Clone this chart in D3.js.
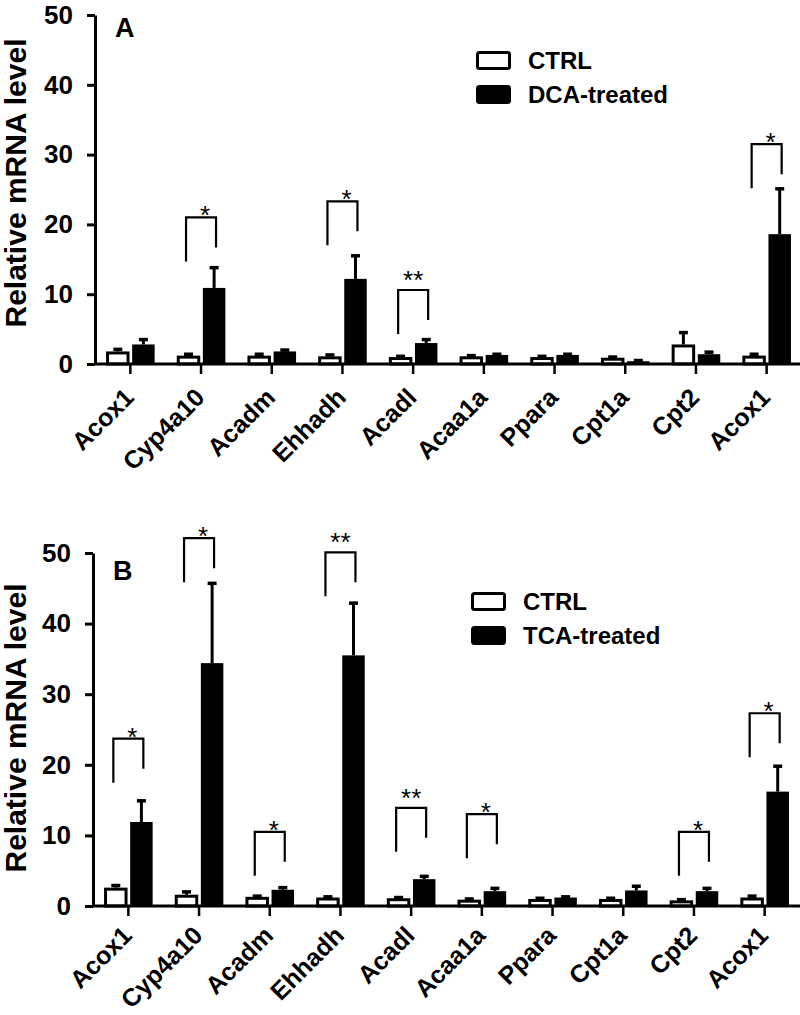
<!DOCTYPE html>
<html>
<head>
<meta charset="utf-8">
<script src="https://cdn.jsdelivr.net/npm/d3@7/dist/d3.min.js"></script>
<style>
  html, body { margin: 0; padding: 0; background: #fff; }
  svg { display: block; font-family: "Liberation Sans", Arial, sans-serif; }
</style>
</head>
<body>
<svg id="chart" width="800" height="1015"></svg>
<script>
// ---------- data ----------
const categories = ["Acox1","Cyp4a10","Acadm","Ehhadh","Acadl","Acaa1a","Ppara","Cpt1a","Cpt2","Acox1"];
const yTicks = [0, 10, 20, 30, 40, 50];
const yLabel = "Relative mRNA level";

// Panel A
const ctrlA    = [1.8, 1.2, 1.2, 1.1, 1.0, 1.1, 1.0, 0.9, 2.8, 1.2];
const ctrlAErr = [0.3, 0.2, 0.2, 0.2, 0.1, 0.1, 0.1, 0.1, 1.7, 0.2];
const dcaA     = [2.8, 10.9, 1.8, 12.2, 3.0, 1.3, 1.3, 0.4, 1.4, 18.6];
const dcaAErr  = [0.7, 2.9, 0.2, 3.3, 0.5, 0.1, 0.1, 0.1, 0.3, 6.5];
const sigAIndex = [1, 3, 4, 9];
const sigATop   = [21.0, 23.3, 10.6, 31.5];
const sigALabel = ["*", "*", "**", "*"];

// Panel B
const ctrlB    = [2.6, 1.6, 1.3, 1.2, 1.1, 0.9, 1.0, 1.0, 0.8, 1.2];
const ctrlBErr = [0.3, 0.4, 0.1, 0.1, 0.1, 0.1, 0.1, 0.1, 0.1, 0.2];
const tcaB     = [11.9, 34.4, 2.3, 35.5, 3.8, 2.1, 1.2, 2.2, 2.1, 16.2];
const tcaBErr  = [3.0, 11.3, 0.3, 7.4, 0.4, 0.4, 0.1, 0.6, 0.4, 3.6];
const sigBIndex = [0, 1, 2, 3, 4, 5, 8, 9];
const sigBTop   = [23.7, 52.1, 10.5, 50.1, 13.9, 13.0, 10.5, 27.3];
const sigBLabel = ["*", "*", "*", "**", "**", "*", "*", "*"];

// ---------- drawing ----------
const svg = d3.select("#chart");

function drawPanel(p) {
  const g = svg.append("g");
  const idx = d3.range(categories.length);
  const x = d3.scaleBand().domain(idx).range([p.axisX, p.axisX + 70.7 * categories.length]);
  const y = d3.scaleLinear().domain([0, 50]).range([p.y0, p.y50]);
  const sub = d3.scaleBand().domain(["ctrl", "trt"])
    .range([-24.3, 25.3]).paddingInner(0.1);
  const cx = i => x(i) + x.bandwidth() / 2;

  // bars CTRL (white, outlined)
  g.selectAll(".barC").data(idx).join("rect")
    .attr("x", i => cx(i) + sub("ctrl") + 1.5)
    .attr("width", sub.bandwidth() - 3)
    .attr("y", i => y(p.ctrl[i]) + 1.5)
    .attr("height", i => Math.max(0, y(0) - y(p.ctrl[i]) - 1.5))
    .attr("fill", "#fff").attr("stroke", "#000").attr("stroke-width", 3);

  // error bars CTRL
  g.selectAll(".errC").data(idx).join("line")
    .attr("x1", i => cx(i) + sub("ctrl") + sub.bandwidth() / 2)
    .attr("x2", i => cx(i) + sub("ctrl") + sub.bandwidth() / 2)
    .attr("y1", i => y(p.ctrl[i]))
    .attr("y2", i => y(p.ctrl[i] + p.ctrlErr[i]))
    .attr("stroke", "#000").attr("stroke-width", 3);
  g.selectAll(".capC").data(idx).join("line")
    .attr("x1", i => cx(i) + sub("ctrl") + sub.bandwidth() / 2 - 4.5)
    .attr("x2", i => cx(i) + sub("ctrl") + sub.bandwidth() / 2 + 4.5)
    .attr("y1", i => y(p.ctrl[i] + p.ctrlErr[i]))
    .attr("y2", i => y(p.ctrl[i] + p.ctrlErr[i]))
    .attr("stroke", "#000").attr("stroke-width", 3.5);

  // bars treated (black)
  g.selectAll(".barT").data(idx).join("rect")
    .attr("x", i => cx(i) + sub("trt"))
    .attr("width", sub.bandwidth() - 1)
    .attr("y", i => y(p.trt[i]))
    .attr("height", i => y(0) - y(p.trt[i]))
    .attr("fill", "#000");
  g.selectAll(".errT").data(idx).join("line")
    .attr("x1", i => cx(i) + sub("trt") + sub.bandwidth() / 2 - 0.5)
    .attr("x2", i => cx(i) + sub("trt") + sub.bandwidth() / 2 - 0.5)
    .attr("y1", i => y(p.trt[i]))
    .attr("y2", i => y(p.trt[i] + p.trtErr[i]))
    .attr("stroke", "#000").attr("stroke-width", 3);
  g.selectAll(".capT").data(idx).join("line")
    .attr("x1", i => cx(i) + sub("trt") + sub.bandwidth() / 2 - 5)
    .attr("x2", i => cx(i) + sub("trt") + sub.bandwidth() / 2 + 4)
    .attr("y1", i => y(p.trt[i] + p.trtErr[i]))
    .attr("y2", i => y(p.trt[i] + p.trtErr[i]))
    .attr("stroke", "#000").attr("stroke-width", 3.5);

  // significance brackets
  const sig = p.sigIndex.map((k, j) => ({ i: k, top: p.sigTop[j], label: p.sigLabel[j] }));
  g.selectAll(".brk").data(sig).join("path")
    .attr("d", d => {
      const xl = cx(d.i) - 15, xr = cx(d.i) + 15, yt = y(d.top);
      return `M${xl},${yt + 44}V${yt}H${xr}V${yt + 30}`;
    })
    .attr("fill", "none").attr("stroke", "#000").attr("stroke-width", 2.2);
  g.selectAll(".star").data(sig).join("text")
    .attr("x", d => cx(d.i) + (d.label === "*" ? 4 : 0))
    .attr("y", d => y(d.top) + (d.label === "*" ? 7 : -1))
    .attr("text-anchor", "middle")
    .attr("font-size", 26)
    .attr("fill", "#000")
    .text(d => d.label);

  // x axis
  const xAxis = d3.axisBottom(x).tickSize(10).tickSizeOuter(0).tickFormat(() => "");
  const gx = g.append("g").attr("transform", `translate(0,${p.y0})`).call(xAxis);
  gx.select(".domain").attr("stroke-width", 3).attr("d", `M${p.axisX},0H800`);
  gx.selectAll(".tick line").attr("stroke-width", 2.5);
  g.selectAll(".catlab").data(idx).join("text")
    .attr("transform", i => `translate(${cx(i) + 5},${p.y0 + p.labOff}) rotate(-45)`)
    .attr("text-anchor", "end")
    .attr("font-size", 25).attr("font-weight", "bold")
    .attr("fill", "#000")
    .text(i => categories[i]);

  // y axis
  const yAxis = d3.axisLeft(y).tickValues(yTicks).tickSize(8).tickSizeOuter(0).tickPadding(14);
  const gy = g.append("g").attr("transform", `translate(${p.axisX},0)`).call(yAxis);
  gy.select(".domain").attr("stroke-width", 3);
  gy.selectAll(".tick line").attr("stroke-width", 3);
  gy.selectAll(".tick text")
    .attr("font-size", 26).attr("font-weight", "bold")
    .attr("font-family", "'Liberation Sans', Arial, sans-serif").attr("fill", "#000");

  // y label
  g.append("text")
    .attr("transform", `translate(26,${p.labelY}) rotate(-90)`)
    .attr("text-anchor", "middle")
    .attr("font-size", 30).attr("font-weight", "bold")
    .text(yLabel);

  // panel letter
  g.append("text")
    .attr("x", p.axisX + 20).attr("y", p.letterY)
    .attr("font-size", 27).attr("font-weight", "bold")
    .text(p.letter);

  // legend
  const leg = g.append("g");
  const items = [{ name: "CTRL", fill: "#fff" }, { name: p.trtName, fill: "#000" }];
  items.forEach((it, j) => {
    leg.append("rect")
      .attr("x", p.legX + 1.5).attr("y", p.legY + j * 34 + 1.5)
      .attr("width", 32).attr("height", 16).attr("rx", 2)
      .attr("fill", it.fill).attr("stroke", "#000").attr("stroke-width", 3);
    leg.append("text")
      .attr("x", p.legX + 52).attr("y", p.legY + j * 34 + 18)
      .attr("font-size", 24).attr("font-weight", "bold")
      .text(it.name);
  });
}

drawPanel({
  ctrl: ctrlA, ctrlErr: ctrlAErr, trt: dcaA, trtErr: dcaAErr,
  sigIndex: sigAIndex, sigTop: sigATop, sigLabel: sigALabel,
  axisX: 95, y0: 364, y50: 15, labelY: 183, letter: "A", letterY: 37,
  legX: 476, legY: 51, trtName: "DCA-treated", labOff: 35
});
drawPanel({
  ctrl: ctrlB, ctrlErr: ctrlBErr, trt: tcaB, trtErr: tcaBErr,
  sigIndex: sigBIndex, sigTop: sigBTop, sigLabel: sigBLabel,
  axisX: 93, y0: 906, y50: 553, labelY: 728, letter: "B", letterY: 580,
  legX: 471, legY: 592, trtName: "TCA-treated", labOff: 31
});
</script>
</body>
</html>
